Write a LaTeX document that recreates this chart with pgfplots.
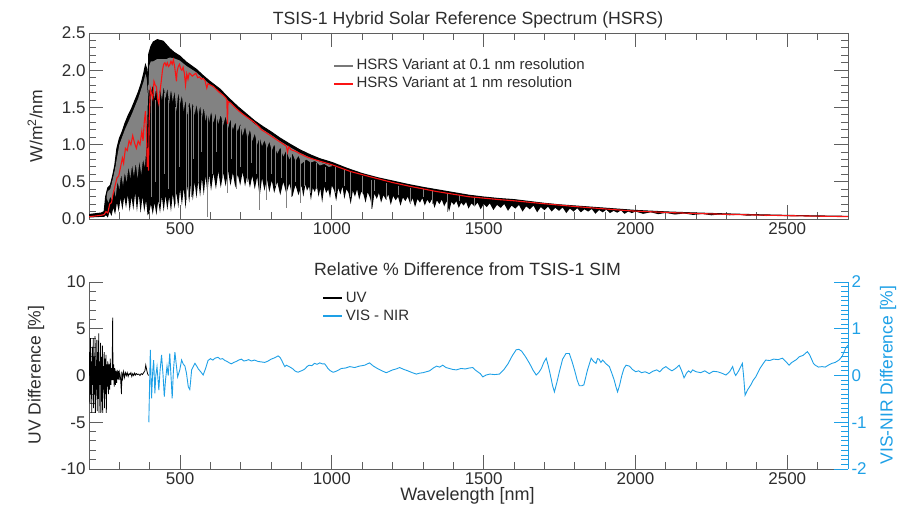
\documentclass[border=0pt]{standalone}
\usepackage{fontspec}
\setmainfont{Liberation Sans}
\usepackage{pgfplots}
\pgfplotsset{compat=1.18}
\usepgfplotslibrary{fillbetween}
\definecolor{visblue}{RGB}{30,160,230}
\definecolor{txt}{RGB}{45,45,45}
\definecolor{axc}{RGB}{95,95,95}
\definecolor{specgray}{RGB}{130,130,130}
\definecolor{leggray}{RGB}{120,120,120}
\definecolor{hsrsred}{RGB}{250,20,20}
\pgfplotsset{
  mystyle/.style={scale only axis, width=759pt, xmin=200, xmax=2700,
    tick align=inside, major tick length=14pt, minor tick length=7pt,
    axis line style={axc, line width=0.9pt},
    tick style={axc, line width=0.9pt},
    tick label style={font=\fontsize{17}{20}\selectfont, text=txt},
    xtick={500,1000,1500,2000,2500}, xticklabels={500,1000,1500,2000,2500},
    minor xtick={300,400,...,2700}},
  legstyle/.style={legend cell align=left,
    legend style={anchor=north west, draw=none, fill=none,
    font=\fontsize{15}{17}\selectfont, inner sep=0pt, row sep=3pt, column sep=4pt,
    nodes={inner sep=0.5pt, text height=11pt, text depth=3pt}}}
}
\begin{document}
\begin{tikzpicture}
\path (0pt,0pt) rectangle (910pt,519pt);
% ---------------- top panel ----------------
\begin{axis}[mystyle, at={(89pt,300pt)}, anchor=south west, height=186pt,
  ymin=0, ymax=2.5, ytick={0,0.5,1,1.5,2,2.5}, yticklabels={0.0,0.5,1.0,1.5,2.0,2.5},
  minor ytick={0.1,0.2,0.3,0.4,0.6,0.7,0.8,0.9,1.1,1.2,1.3,1.4,1.6,1.7,1.8,1.9,2.1,2.2,2.3,2.4}]
% top envelope (0.1 nm variant maxima)
\addplot[draw=none, name path=E, forget plot] coordinates {
(200,0.06)(240,0.08)(250,0.10)(255,0.30)(262,0.42)(270,0.45)(278,0.58)(285,0.72)(292,0.95)(300,1.08)
(310,1.18)(318,1.28)(330,1.40)(340,1.48)(352,1.60)(362,1.70)(372,1.82)(380,1.95)(386,2.07)(390,2.02)
(394,1.80)(397,2.22)(404,2.32)(412,2.38)(425,2.41)(444,2.39)(455,2.34)(466,2.29)(480,2.24)(499,2.19)
(520,2.11)(554,2.01)(575,1.93)(598,1.85)(630,1.75)(664,1.61)(690,1.51)(719,1.41)(745,1.32)(773,1.24)
(800,1.17)(828,1.09)(860,1.01)(894,0.93)(930,0.86)(960,0.81)(1000,0.76)(1050,0.68)(1100,0.61)(1150,0.555)
(1200,0.51)(1250,0.465)(1300,0.425)(1350,0.39)(1400,0.355)(1450,0.32)(1500,0.295)(1550,0.275)(1600,0.26)
(1650,0.235)(1700,0.21)(1750,0.19)(1800,0.175)(1850,0.16)(1900,0.145)(1950,0.13)(2000,0.115)(2100,0.095)
(2200,0.08)(2300,0.068)(2400,0.057)(2500,0.048)(2600,0.041)(2700,0.035)};
% lower boundary of the black (full resolution) spectrum
\addplot[draw=none, name path=L, forget plot] coordinates {
(200,0.02)(250,0.03)(256,0.05)(262,0.02)(268,0.10)(274,0.04)(280,0.15)(286,0.06)(292,0.22)(298,0.10)
(304,0.28)(310,0.12)(316,0.30)(322,0.15)(328,0.32)(334,0.10)(340,0.30)(346,0.12)(352,0.35)(358,0.10)
(364,0.33)(370,0.08)(376,0.30)(382,0.10)(388,0.25)(393,0.05)(398,0.08)(404,0.20)(410,0.06)(416,0.22)
(422,0.05)(428,0.25)(434,0.08)(440,0.30)(446,0.10)(452,0.32)(458,0.12)(464,0.30)(470,0.10)(476,0.34)
(482,0.14)(488,0.36)(494,0.15)(500,0.40)(506,0.18)(512,0.42)(518,0.14)(524,0.45)(530,0.22)(536,0.48)
(542,0.25)(548,0.50)(554,0.28)(560,0.52)(566,0.30)(572,0.55)(578,0.32)(584,0.58)(590,0.35)(596,0.60)
(602,0.38)(610,0.62)(618,0.40)(626,0.64)(634,0.42)(642,0.62)(650,0.44)(658,0.65)(666,0.45)(674,0.62)
(682,0.42)(690,0.60)(698,0.45)(706,0.63)(714,0.44)(722,0.60)(730,0.42)(738,0.58)(746,0.40)(754,0.57)
(762,0.30)(770,0.55)(778,0.38)(786,0.54)(794,0.36)(802,0.52)(810,0.35)(820,0.50)(830,0.32)(840,0.50)
(850,0.34)(860,0.48)(870,0.30)(880,0.46)(890,0.32)(900,0.45)(906,0.30)(913,0.47)(918,0.38)(925,0.44)
(931,0.25)(937,0.42)(944,0.36)(950,0.46)(956,0.30)(962,0.41)(968,0.22)(975,0.44)(981,0.35)(988,0.40)
(994,0.28)(1000,0.45)(1008,0.38)(1014,0.24)(1021,0.42)(1028,0.33)(1035,0.44)(1041,0.27)(1048,0.40)
(1055,0.35)(1062,0.20)(1069,0.38)(1076,0.30)(1083,0.40)(1090,0.26)(1097,0.37)(1104,0.33)(1111,0.22)
(1118,0.36)(1126,0.28)(1133,0.14)(1140,0.34)(1148,0.27)(1155,0.35)(1162,0.22)(1170,0.32)(1178,0.26)
(1186,0.33)(1194,0.19)(1202,0.31)(1210,0.25)(1218,0.30)(1226,0.18)(1234,0.29)(1242,0.24)(1250,0.30)
(1258,0.20)(1266,0.28)(1274,0.16)(1282,0.27)(1290,0.22)(1298,0.28)(1306,0.18)(1314,0.26)(1322,0.21)
(1330,0.27)(1338,0.15)(1346,0.25)(1354,0.20)(1362,0.26)(1370,0.17)(1378,0.24)(1386,0.10)(1394,0.23)
(1402,0.19)(1410,0.24)(1418,0.15)(1426,0.22)(1434,0.18)(1442,0.23)(1450,0.14)(1460,0.21)(1470,0.17)
(1480,0.22)(1490,0.13)(1500,0.20)(1510,0.16)(1520,0.21)(1532,0.12)(1544,0.19)(1556,0.15)(1568,0.20)
(1580,0.11)(1592,0.18)(1604,0.14)(1616,0.19)(1628,0.10)(1640,0.17)(1652,0.13)(1664,0.18)(1676,0.09)
(1688,0.16)(1700,0.12)(1712,0.165)(1724,0.10)(1736,0.15)(1748,0.11)(1760,0.155)(1772,0.08)(1784,0.14)
(1796,0.10)(1808,0.145)(1820,0.09)(1832,0.13)(1844,0.10)(1856,0.135)(1868,0.07)(1880,0.12)(1892,0.09)
(1904,0.125)(1916,0.08)(1928,0.11)(1940,0.085)(1952,0.115)(1964,0.07)(1976,0.10)(1988,0.08)(2000,0.10)
(2025,0.07)(2050,0.09)(2075,0.065)(2100,0.082)(2130,0.06)(2160,0.074)(2190,0.055)(2220,0.068)(2250,0.05)
(2280,0.062)(2310,0.05)(2340,0.057)(2370,0.044)(2400,0.052)(2430,0.04)(2460,0.046)(2500,0.038)
(2550,0.041)(2600,0.033)(2650,0.035)(2700,0.029)};
% gray band (0.1 nm variant) top and bottom
\addplot[draw=none, name path=Tg, forget plot] coordinates {
(258,0.36)(270,0.40)(285,0.66)(300,1.00)(318,1.20)(340,1.40)(362,1.62)(380,1.85)(386,1.95)(390,1.90)
(394,1.65)(397,2.05)(404,2.12)(412,2.12)(425,2.15)(444,2.15)(455,2.15)(466,2.17)(480,2.16)(499,2.13)
(520,2.06)(554,1.97)(575,1.89)(598,1.81)(630,1.71)(664,1.57)(690,1.47)(719,1.37)(745,1.28)(773,1.20)
(800,1.13)(828,1.05)(860,0.97)(894,0.89)(930,0.82)(960,0.77)(1000,0.72)};
\addplot[draw=none, name path=G, forget plot] coordinates {
(258,0.28)(264,0.22)(270,0.30)(276,0.25)(282,0.40)(288,0.30)(294,0.50)(300,0.40)(306,0.60)(312,0.45)
(318,0.62)(324,0.50)(330,0.70)(336,0.55)(342,0.72)(348,0.58)(354,0.75)(360,0.55)(366,0.78)(372,0.60)
(378,0.80)(384,0.70)(390,1.00)(394,1.60)(397,1.75)(404,1.70)(410,1.80)(416,1.62)(422,1.78)(428,1.55)
(434,1.76)(440,1.60)(446,1.78)(452,1.62)(458,1.76)(464,1.55)(470,1.74)(476,1.58)(482,1.72)(488,1.45)
(494,1.70)(500,1.55)(506,1.66)(512,1.45)(518,1.60)(524,1.40)(530,1.58)(536,1.45)(542,1.56)(548,1.40)
(554,1.54)(560,1.38)(566,1.52)(572,1.36)(578,1.50)(584,1.32)(590,1.45)(596,1.30)(602,1.44)(610,1.30)
(618,1.42)(626,1.28)(634,1.40)(642,1.26)(650,1.38)(658,1.22)(666,1.34)(674,1.20)(682,1.30)(690,1.18)
(698,1.28)(706,1.12)(714,1.24)(722,1.08)(730,1.20)(738,1.05)(746,1.15)(754,1.00)(762,1.10)(770,0.98)
(778,1.06)(786,0.95)(794,1.04)(802,0.92)(810,1.00)(820,0.88)(830,0.96)(840,0.84)(850,0.92)(860,0.80)
(870,0.88)(880,0.78)(890,0.85)(900,0.74)(915,0.80)(930,0.76)(945,0.78)(960,0.72)(975,0.74)(990,0.70)
(1000,0.71)};
\addplot[black, forget plot] fill between[of=E and L];
\addplot[specgray, forget plot] fill between[of=Tg and G];
% gray streaks inside the black part
\addplot[specgray, line width=0.7pt, forget plot, unbounded coords=jump] coordinates {
(405,1.70)(405,0.30)(405,nan)(418,1.60)(418,0.50)(418,nan)(432,1.70)(432,0.20)(432,nan)
(447,1.70)(447,0.60)(447,nan)(462,1.60)(462,0.40)(462,nan)(486,1.50)(486,0.20)(486,nan)
(497,1.60)(497,0.70)(497,nan)(527,1.50)(527,0.30)(527,nan)(545,1.50)(545,0.80)(545,nan)
(560,1.45)(560,0.50)(560,nan)(570,1.40)(570,0.90)(570,nan)(605,1.40)(605,0.60)(605,nan)
(620,1.40)(620,0.90)(620,nan)(640,1.30)(640,0.55)(640,nan)(670,1.30)(670,0.80)(670,nan)
(700,1.25)(700,0.70)(700,nan)(720,1.20)(720,0.50)(720,nan)(735,1.15)(735,0.75)(735,nan)
(750,1.10)(750,0.60)(750,nan)(800,1.00)(800,0.60)(800,nan)(815,0.98)(815,0.45)(815,nan)
(835,0.95)(835,0.55)(835,nan)(880,0.85)(880,0.50)(880,nan)(910,0.80)(910,0.45)(910,nan)
(950,0.75)(950,0.40)(950,nan)(980,0.70)(980,0.50)(980,nan)(1010,0.70)(1010,0.35)(1010,nan)
(1040,0.66)(1040,0.45)(1040,nan)(1060,0.63)(1060,0.30)(1060,nan)(1100,0.58)(1100,0.35)(1100,nan)
(1140,0.53)(1140,0.38)(1140,nan)(1180,0.48)(1180,0.25)(1180,nan)(1220,0.45)(1220,0.32)(1220,nan)
(1260,0.42)(1260,0.22)(1260,nan)(1300,0.40)(1300,0.30)(1300,nan)(1330,0.37)(1330,0.20)(1330,nan)
(1420,0.32)(1420,0.24)(1420,nan)(1470,0.29)(1470,0.18)};
% deep absorption lines
\addplot[specgray, line width=0.9pt, forget plot, unbounded coords=jump] coordinates {
(521,1.95)(521,0.25)(521,nan)(538,1.90)(538,0.30)(538,nan)(589,1.80)(589,0.03)(589,nan)
(656,1.45)(656,0.35)(656,nan)(686,1.40)(686,0.40)(686,nan)(762,1.15)(762,0.12)(762,nan)
(784,1.10)(784,0.25)(784,nan)(850,0.95)(850,0.15)(850,nan)(866,0.93)(866,0.30)(866,nan)
(895,0.85)(895,0.22)(895,nan)(930,0.80)(930,0.35)(930,nan)(1130,0.52)(1130,0.14)(1130,nan)
(1380,0.33)(1380,0.10)};
% top black edge
\addplot[black, line width=1.1pt, forget plot] coordinates {
(200,0.06)(240,0.08)(250,0.10)(255,0.30)(262,0.42)(270,0.45)(278,0.58)(285,0.72)(292,0.95)(300,1.08)
(310,1.18)(318,1.28)(330,1.40)(340,1.48)(352,1.60)(362,1.70)(372,1.82)(380,1.95)(386,2.07)(390,2.02)
(394,1.80)(397,2.22)(404,2.32)(412,2.38)(425,2.41)(444,2.39)(455,2.34)(466,2.29)(480,2.24)(499,2.19)
(520,2.11)(554,2.01)(575,1.93)(598,1.85)(630,1.75)(664,1.61)(690,1.51)(719,1.41)(745,1.32)(773,1.24)
(800,1.17)(828,1.09)(860,1.01)(894,0.93)(930,0.86)(960,0.81)(1000,0.76)(1050,0.68)(1100,0.61)(1150,0.555)
(1200,0.51)(1250,0.465)(1300,0.425)(1350,0.39)(1400,0.355)(1450,0.32)(1500,0.295)(1550,0.275)(1600,0.26)
(1650,0.235)(1700,0.21)(1750,0.19)(1800,0.175)(1850,0.16)(1900,0.145)(1950,0.13)(2000,0.115)(2100,0.095)
(2200,0.08)(2300,0.068)(2400,0.057)(2500,0.048)(2600,0.041)(2700,0.035)};
% 1 nm variant
\addplot[hsrsred, line width=1.1pt, forget plot] coordinates {
(200,0.03)(220,0.04)(240,0.05)(250,0.06)(256,0.10)(262,0.08)(268,0.20)(274,0.22)(280,0.35)(286,0.45)
(292,0.55)(298,0.58)(304,0.70)(310,0.82)(314,0.75)(320,0.95)(326,0.92)(332,1.05)(338,1.00)(344,1.12)
(350,1.02)(356,0.95)(362,1.05)(368,1.00)(374,1.18)(378,1.05)(382,1.30)(386,1.45)(389,1.20)(392,0.70)
(394,0.95)(396,0.65)(398,1.30)(402,1.75)(406,1.68)(410,1.62)(414,1.85)(418,1.80)(422,1.78)(426,1.62)
(430,1.55)(434,1.72)(438,1.85)(442,2.00)(446,2.08)(450,2.10)(454,2.06)(458,2.10)(462,2.05)(466,2.07)
(470,2.12)(474,2.08)(478,2.14)(482,2.05)(486,1.92)(488,1.85)(490,1.98)(494,2.05)(498,2.08)(502,2.02)
(506,2.00)(510,2.04)(514,1.96)(518,1.80)(522,1.95)(526,1.88)(530,1.96)(534,1.95)(540,1.92)(546,1.94)
(552,1.96)(558,1.90)(564,1.91)(570,1.88)(576,1.89)(582,1.86)(588,1.76)(592,1.82)(600,1.80)(610,1.78)
(620,1.74)(630,1.70)(640,1.67)(650,1.63)(654,1.60)(656,1.28)(658,1.58)(666,1.56)(676,1.52)(686,1.48)
(700,1.43)(720,1.37)(741,1.31)(760,1.24)(768,1.20)(780,1.17)(795,1.13)(820,1.06)(850,0.98)(854,0.90)
(858,0.97)(866,0.93)(880,0.91)(894,0.88)(920,0.83)(950,0.79)(1000,0.73)(1060,0.64)(1124,0.57)(1200,0.49)
(1256,0.44)(1344,0.37)(1450,0.30)(1552,0.26)(1600,0.245)(1700,0.205)(1800,0.168)(1900,0.135)(1990,0.108)
(2100,0.088)(2200,0.074)(2300,0.063)(2400,0.053)(2500,0.045)(2600,0.038)(2700,0.032)};
\end{axis}
% legend of the top panel, on its own hidden axis
\begin{axis}[scale only axis, width=759pt, height=186pt, at={(89pt,300pt)}, anchor=south west,
  hide axis, xmin=200, xmax=2700, ymin=0, ymax=2.5, legstyle,
  legend style={at={(0.322,0.865)}}]
\addlegendimage{legend image code/.code={\fill[leggray] (0pt,-0.45pt) rectangle (18pt,0.45pt);}}
\addlegendentry{\textcolor{txt}{HSRS Variant at 0.1 nm resolution}}
\addlegendimage{legend image code/.code={\fill[hsrsred] (0pt,-0.45pt) rectangle (18pt,0.45pt);}}
\addlegendentry{\textcolor{txt}{HSRS Variant at 1 nm resolution}}
\end{axis}
% ---------------- bottom panel, left axis (UV) ----------------
\begin{axis}[mystyle, at={(89pt,50pt)}, anchor=south west, height=187pt,
  axis x line*=bottom, axis y line*=left,
  ymin=-10, ymax=10, ytick={-10,-5,0,5,10}, yticklabels={-10,-5,0,5,10},
  minor ytick={-9,-8,-7,-6,-4,-3,-2,-1,1,2,3,4,6,7,8,9},
  legstyle, legend style={at={(0.308,0.955)}}]
\addplot[black, line width=0.8pt, forget plot] coordinates {
(200,0)(202,2.5)(203,-3)(205,4)(206,-2)(208,1.5)(209,-4)(211,3)(212,-1)(214,4)(215,-3.5)(217,2)(218,-2)
(220,4.2)(221,-4)(223,1)(224,-1.5)(226,3.8)(227,-3.8)(229,2.5)(230,-2.5)(232,4.5)(233,-4)(235,1.5)(236,-1)
(238,3.5)(239,-4)(241,2)(242,-2.8)(244,3.2)(245,-4)(247,1)(248,-1.5)(250,2.5)(251,-3.5)(253,1.8)(254,-2)
(256,2.2)(257,-4)(259,1.2)(260,-1.2)(262,1.5)(264,-2)(266,1.2)(268,-1.5)(270,1.8)(272,-1)(274,0.8)
(276,-0.5)(278,6.2)(279,-0.5)(281,1.2)(283,-1.2)(285,0.8)(287,-1)(289,0.5)(291,-0.8)(293,0.6)(295,-0.4)
(297,0.5)(299,-0.5)(301,0.3)(304,-0.3)(307,-2.0)(308,0.4)(311,-0.3)(314,0.4)(317,-0.2)(320,0.3)(323,0)
(326,0.3)(329,-0.1)(332,0.2)(335,0.1)(338,0.3)(341,-0.1)(344,0.2)(347,0)(350,0.25)(353,0.05)(356,0.2)
(360,0.1)(364,0.15)(368,0)(372,0.2)(376,0.1)(380,0.3)(384,0.5)(387,1.1)(390,0.6)(393,0.2)(396,0)};
\addlegendimage{legend image code/.code={\fill[black] (0pt,-0.45pt) rectangle (18pt,0.45pt);}}
\addlegendentry{\textcolor{txt}{UV}}
\addlegendimage{legend image code/.code={\fill[visblue] (0pt,-0.45pt) rectangle (18pt,0.45pt);}}
\addlegendentry{\textcolor{txt}{VIS - NIR}}
\end{axis}
% ---------------- bottom panel, right axis (VIS-NIR) ----------------
\begin{axis}[scale only axis, width=759pt, height=187pt, at={(89pt,50pt)}, anchor=south west,
  xmin=200, xmax=2700, axis x line=none, axis y line*=right,
  ymin=-2, ymax=2, ytick={-2,-1,0,1,2}, yticklabels={-2,-1,0,1,2},
  minor ytick={-1.9,-1.8,-1.7,-1.6,-1.5,-1.4,-1.3,-1.2,-1.1,-0.9,-0.8,-0.7,-0.6,-0.5,-0.4,-0.3,-0.2,-0.1,0.1,0.2,0.3,0.4,0.5,0.6,0.7,0.8,0.9,1.1,1.2,1.3,1.4,1.5,1.6,1.7,1.8,1.9},
  tick align=inside, major tick length=14pt, minor tick length=7pt,
  axis line style={visblue, line width=0.9pt},
  tick style={visblue, line width=0.9pt},
  tick label style={font=\fontsize{17}{20}\selectfont, text=visblue}]
\addplot[visblue, line width=0.9pt] coordinates {
(397,-1.0)(402,0.55)(406,-0.49)(410,0.1)(413,0.33)(417,-0.38)(420,0.0)(424,0.19)(430,-0.31)(434,0.1)
(439,0.44)(444,0.0)(448,-0.45)(452,-0.1)(457,0.2)(461,0.0)(466,0.47)(470,0.0)(474,-0.49)(478,0.1)
(483,0.5)(488,0.2)(492,-0.03)(499,0.12)(505,0.33)(510,0.25)(516,0.2)(521,0.05)(527,-0.24)(532,-0.3)
(535,-0.1)(538,0.12)(544,0.2)(549,0.26)(555,0.2)(560,0.14)(568,0.08)(576,0.01)(584,0.15)(592,0.32)
(600,0.36)(608,0.33)(615,0.37)(625,0.39)(632,0.35)(640,0.36)(648,0.32)(655,0.30)(662,0.27)(669,0.25)
(677,0.28)(685,0.30)(693,0.33)(702,0.35)(710,0.31)(718,0.32)(726,0.34)(735,0.31)(745,0.33)(757,0.30)
(768,0.29)(779,0.28)(790,0.31)(800,0.35)(812,0.38)(823,0.42)(830,0.38)(835,0.32)(840,0.25)(845,0.19)
(850,0.22)(856,0.20)(862,0.18)(867,0.16)(872,0.14)(878,0.10)(884,0.08)(889,0.07)(895,0.09)(900,0.10)
(906,0.12)(911,0.14)(918,0.19)(925,0.22)(934,0.21)(943,0.26)(951,0.24)(960,0.27)(968,0.25)(976,0.25)
(982,0.2)(987,0.15)(993,0.11)(998,0.09)(1004,0.07)(1010,0.08)(1020,0.11)(1031,0.15)(1045,0.16)(1059,0.19)
(1075,0.17)(1090,0.2)(1108,0.22)(1124,0.27)(1137,0.2)(1150,0.15)(1165,0.1)(1179,0.06)(1190,0.09)(1200,0.12)
(1212,0.14)(1223,0.17)(1237,0.13)(1250,0.1)(1265,0.06)(1278,0.03)(1289,0.05)(1300,0.06)(1311,0.08)
(1322,0.1)(1334,0.16)(1345,0.2)(1355,0.18)(1365,0.22)(1376,0.17)(1387,0.15)(1398,0.13)(1410,0.12)
(1425,0.15)(1440,0.14)(1452,0.16)(1464,0.17)(1472,0.12)(1480,0.08)(1489,0.04)(1497,-0.03)(1508,0.01)
(1520,0.03)(1536,0.02)(1552,0.03)(1566,0.12)(1580,0.25)(1594,0.42)(1607,0.55)(1616,0.56)(1625,0.52)
(1638,0.4)(1651,0.26)(1662,0.12)(1673,0.01)(1681,0.06)(1690,0.15)(1698,0.28)(1706,0.37)(1713,0.2)
(1720,0.0)(1727,-0.22)(1733,-0.35)(1741,-0.15)(1750,0.1)(1760,0.35)(1771,0.47)(1782,0.47)(1791,0.3)
(1800,0.1)(1808,-0.1)(1815,-0.22)(1823,-0.22)(1830,-0.2)(1842,0.12)(1854,0.37)(1862,0.3)(1870,0.26)
(1875,0.36)(1880,0.35)(1886,0.28)(1892,0.33)(1903,0.25)(1914,0.19)(1922,0.05)(1930,-0.1)(1936,-0.25)
(1941,-0.35)(1948,-0.2)(1955,0.0)(1962,0.15)(1969,0.22)(1980,0.2)(1990,0.13)(2001,0.08)(2010,0.1)
(2020,0.06)(2032,0.08)(2045,0.04)(2057,0.09)(2070,0.12)(2080,0.08)(2090,0.15)(2100,0.19)(2110,0.14)
(2120,0.1)(2132,0.15)(2144,0.22)(2152,0.1)(2160,-0.05)(2168,0.05)(2175,0.1)(2182,0.06)(2188,0.12)
(2200,0.08)(2215,0.06)(2228,0.1)(2243,0.04)(2256,0.09)(2270,0.08)(2284,0.05)(2298,0.01)(2310,0.08)
(2320,0.19)(2326,0.05)(2330,0.0)(2340,0.1)(2352,0.26)(2356,0.0)(2361,-0.42)(2370,-0.3)(2380,-0.2)
(2388,-0.1)(2396,-0.03)(2403,0.06)(2410,0.15)(2420,0.25)(2429,0.33)(2442,0.32)(2455,0.35)(2470,0.34)
(2484,0.37)(2495,0.3)(2506,0.22)(2513,0.27)(2520,0.3)(2530,0.34)(2539,0.4)(2552,0.43)(2566,0.51)
(2573,0.45)(2580,0.35)(2586,0.26)(2592,0.22)(2603,0.18)(2614,0.19)(2625,0.18)(2635,0.22)(2647,0.26)
(2658,0.28)(2670,0.33)(2680,0.4)(2692,0.58)(2700,0.65)};
\end{axis}
% ---------------- titles and labels ----------------
\node[font=\fontsize{17.7}{20}\selectfont, text=txt] at (468pt,499.5pt) {TSIS-1 Hybrid Solar Reference Spectrum (HSRS)};
\node[font=\fontsize{17.7}{20}\selectfont, text=txt] at (467.5pt,250pt) {Relative \% Difference from TSIS-1 SIM};
\node[font=\fontsize{17.5}{20}\selectfont, text=txt, rotate=90] at (35pt,393pt) {W/m\textsuperscript{2}/nm};
\node[font=\fontsize{17.5}{20}\selectfont, text=txt, rotate=90] at (36pt,144pt) {UV Difference [\%]};
\node[font=\fontsize{17.5}{20}\selectfont, text=visblue, rotate=90] at (888pt,144pt) {VIS-NIR Difference [\%]};
\node[font=\fontsize{18}{20}\selectfont, text=txt] at (467.5pt,23pt) {Wavelength [nm]};
\end{tikzpicture}
\end{document}
